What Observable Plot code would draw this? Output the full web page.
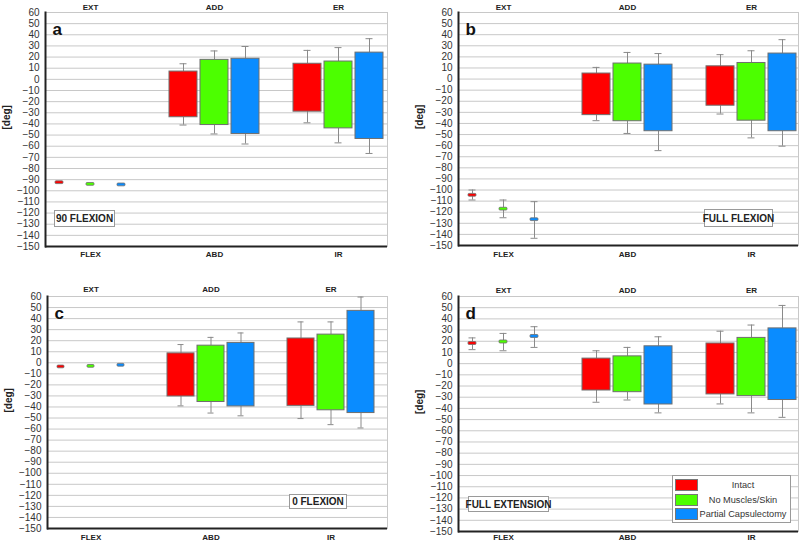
<!DOCTYPE html>
<html>
<head>
<meta charset="utf-8">
<script src="https://cdn.jsdelivr.net/npm/d3@7"></script>
<script src="https://cdn.jsdelivr.net/npm/@observablehq/plot@0.6"></script>
<style>
  html, body { margin: 0; padding: 0; background: #fff; }
  #chart { position: relative; width: 800px; height: 542px; overflow: hidden; font-family: "Liberation Sans", Arial, sans-serif; }
  .panel { position: absolute; }
  .cond { position: absolute; box-sizing: border-box; border: 1px solid #9a9a9a; background: #fff;
          font: bold 10px "Liberation Sans", Arial, sans-serif; color: #222; display: flex; align-items: center; justify-content: center; white-space: nowrap; }
  .legend { position: absolute; box-sizing: border-box; border: 1px solid #9a9a9a; background: #fff; padding: 2px 2px; }
  .legend .row { display: flex; align-items: center; height: 14.5px; }
  .legend .sw { width: 23px; height: 12px; box-sizing: border-box; border: 1px solid #777; flex: none; }
  .legend .lbl { flex: 1; text-align: center; font: 9.2px "Liberation Sans", Arial, sans-serif; color: #333; white-space: nowrap; }
</style>
</head>
<body>
<div id="chart"></div>
<script>
// ---- data ----
const seriesNames = ["Intact", "No Muscles/Skin", "Partial Capsulectomy"];
const seriesColors = ["#ff0000", "#4cff00", "#0a8cff"];
const topMotions = ["EXT", "ADD", "ER"];
const bottomMotions = ["FLEX", "ABD", "IR"];
const panelLetters = ["a", "b", "c", "d"];
const conditions = ["90 FLEXION", "FULL FLEXION", "0 FLEXION", "FULL EXTENSION"];
const yTicks = [60, 50, 40, 30, 20, 10, 0, -10, -20, -30, -40, -50, -60, -70, -80, -90, -100, -110, -120, -130, -140, -150];

// rows: [whiskerLow, boxLow, boxHigh, whiskerHigh]; order FLEX/EXT, ABD/ADD, IR/ER x (Intact, No Muscles/Skin, Partial Capsulectomy)
const panelA = [
  [-94, -94, -91.5, -91.5],
  [-95.5, -95.5, -93, -93],
  [-96, -96, -93.5, -93.5],
  [-41, -34, 7, 14],
  [-49, -41, 17.5, 25.5],
  [-58, -49, 18.5, 29.5],
  [-39, -29, 14, 26],
  [-57, -44, 16, 28.5],
  [-66.5, -53.5, 24, 36.5]
];
const panelB = [
  [-109, -106, -103.5, -100],
  [-125, -118.5, -116, -109],
  [-143.5, -128, -125.5, -110.5],
  [-37.5, -32.5, 5, 10.5],
  [-49, -38, 14, 24],
  [-64.5, -47, 13, 23],
  [-31.5, -24, 11.5, 22],
  [-53, -37.5, 14.5, 25.5],
  [-60.5, -47, 23, 35.5]
];
const panelC = [
  [-5, -5, -2.5, -2.5],
  [-4.5, -4.5, -2, -2],
  [-3.5, -3.5, -1, -1],
  [-39, -30.5, 8.5, 16.5],
  [-45.5, -35.5, 15.5, 23],
  [-48, -39.5, 18, 27],
  [-50.5, -39, 22, 37],
  [-56, -43, 25.5, 37],
  [-59, -45.5, 47, 59.5]
];
const panelD = [
  [12.5, 16.7, 19.3, 23],
  [11.5, 18, 20.7, 27],
  [14.5, 23, 25.6, 33],
  [-34.5, -24, 4.5, 11.5],
  [-32.5, -25.5, 6.5, 14.5],
  [-44, -36.5, 15.5, 24],
  [-36, -27.5, 18, 29],
  [-44, -29, 23, 34.5],
  [-48, -32.5, 31.5, 52]
];

// ---- layout ----
const FONT = "'Liberation Sans', Arial, sans-serif";
const layouts = [
  {left: 0,   top: 0,   h: 270, ml: 45, mt: 12, mb: 24, mr: 13, po: 0.05, topDy: -8,  botDy: 10, cond: {l: 54,  t: 210, w: 61, h: 17}},
  {left: 400, top: 0,   h: 270, ml: 58, mt: 12, mb: 25, mr: 2,  po: 0.0,  topDy: -8,  botDy: 11, cond: {l: 704, t: 209, w: 69, h: 18}},
  {left: 0,   top: 270, h: 272, ml: 47, mt: 26, mb: 14, mr: 13, po: 0.05, topDy: -10, botDy: 11, cond: {l: 289, t: 494, w: 58, h: 15}},
  {left: 400, top: 270, h: 272, ml: 58, mt: 26, mb: 11, mr: 2,  po: 0.0,  topDy: -9,  botDy: 8,  cond: {l: 468, t: 496, w: 81, h: 16}}
];

// band slots: 3 motions x 3 series, with an empty slot between motions
const slotDomain = [];
for (let m = 0; m < 3; m++) {
  for (let s = 0; s < 3; s++) slotDomain.push(`${m}-${s}`);
  if (m < 2) slotDomain.push(`gap${m}`);
}
const motionCenters = [0, 1, 2].map(m => `${m}-1`);

function makePanel(rows, i) {
  const L = layouts[i];
  const data = rows.map((r, k) => ({
    key: `${Math.floor(k / 3)}-${k % 3}`,
    motion: Math.floor(k / 3),
    series: seriesNames[k % 3],
    errLow: r[0], lo: r[1], hi: r[2], errHigh: r[3]
  }));
  const flex = data.filter(d => d.motion === 0);
  const boxes = data.filter(d => d.motion > 0);
  const upW = data.filter(d => d.errHigh > d.hi);
  const loW = data.filter(d => d.errLow < d.lo);
  const labelsTop = motionCenters.map((k, j) => ({key: k, text: topMotions[j]}));
  const labelsBot = motionCenters.map((k, j) => ({key: k, text: bottomMotions[j]}));
  return Plot.plot({
    width: 400,
    height: L.h,
    marginLeft: L.ml, marginTop: L.mt, marginBottom: L.mb, marginRight: L.mr,
    style: {fontFamily: FONT, fontSize: "10px", color: "#333", background: "transparent", overflow: "visible"},
    x: {domain: slotDomain, paddingInner: 0.11, paddingOuter: L.po, align: 0, axis: null},
    y: {domain: [-150, 60], axis: null},
    color: {domain: seriesNames, range: seriesColors},
    marks: [
      Plot.gridY(yTicks, {stroke: "#c8c8c8", strokeOpacity: 1, strokeWidth: 1}),
      Plot.frame({anchor: "right", stroke: "#c8c8c8"}),
      Plot.axisY(yTicks, {tickSize: 0, tickPadding: 6, label: null, fontSize: 10, fill: "#333"}),
      Plot.text(["[deg]"], {frameAnchor: "left", rotate: -90, dx: -39, fontWeight: "bold", fontSize: 10, fill: "#222"}),
      Plot.ruleX(upW, {x: "key", y1: "hi", y2: "errHigh", stroke: "#8a8a8a", strokeWidth: 1}),
      Plot.ruleX(loW, {x: "key", y1: "errLow", y2: "lo", stroke: "#8a8a8a", strokeWidth: 1}),
      Plot.tickY(upW, {x: "key", y: "errHigh", stroke: "#8a8a8a", insetLeft: 10.5, insetRight: 10.5}),
      Plot.tickY(loW, {x: "key", y: "errLow", stroke: "#8a8a8a", insetLeft: 10.5, insetRight: 10.5}),
      Plot.barY(boxes, {x: "key", y1: "lo", y2: "hi", fill: "series", stroke: "#6f6f6f", strokeWidth: 1}),
      Plot.barY(flex, {x: "key", y1: "lo", y2: "hi", fill: "series", stroke: "#6f6f6f", strokeWidth: 0.8, insetLeft: 10, insetRight: 10, rx: 1}),
      Plot.text(labelsTop, {x: "key", text: "text", frameAnchor: "top", dy: L.topDy, fontWeight: "bold", fontSize: 8, fill: "#222"}),
      Plot.text(labelsBot, {x: "key", text: "text", frameAnchor: "bottom", dy: L.botDy, fontWeight: "bold", fontSize: 8, fill: "#222"}),
      Plot.text([panelLetters[i]], {frameAnchor: "top-left", textAnchor: "start", dx: 7, dy: 10, fontSize: 17, fontWeight: "bold", fill: "#111"}),
      Plot.ruleY([-150], {stroke: "#222", strokeWidth: 2}),
      Plot.frame({anchor: "left", stroke: "#222", strokeWidth: 2})
    ]
  });
}

const chart = document.getElementById("chart");
[panelA, panelB, panelC, panelD].forEach((rows, i) => {
  const L = layouts[i];
  const wrap = document.createElement("div");
  wrap.className = "panel";
  wrap.style.left = L.left + "px";
  wrap.style.top = L.top + "px";
  wrap.appendChild(makePanel(rows, i));
  chart.appendChild(wrap);
});

// condition boxes
layouts.forEach((L, i) => {
  const b = document.createElement("div");
  b.className = "cond";
  b.style.left = L.cond.l + "px";
  b.style.top = L.cond.t + "px";
  b.style.width = L.cond.w + "px";
  b.style.height = L.cond.h + "px";
  b.textContent = conditions[i];
  chart.appendChild(b);
});

// legend
const lg = document.createElement("div");
lg.className = "legend";
lg.style.left = "672px"; lg.style.top = "475px"; lg.style.width = "119px"; lg.style.height = "48px";
seriesNames.forEach((n, i) => {
  const row = document.createElement("div");
  row.className = "row";
  const sw = document.createElement("div");
  sw.className = "sw"; sw.style.background = seriesColors[i];
  const t = document.createElement("div");
  t.className = "lbl"; t.textContent = n;
  row.appendChild(sw); row.appendChild(t);
  lg.appendChild(row);
});
chart.appendChild(lg);
</script>
</body>
</html>
